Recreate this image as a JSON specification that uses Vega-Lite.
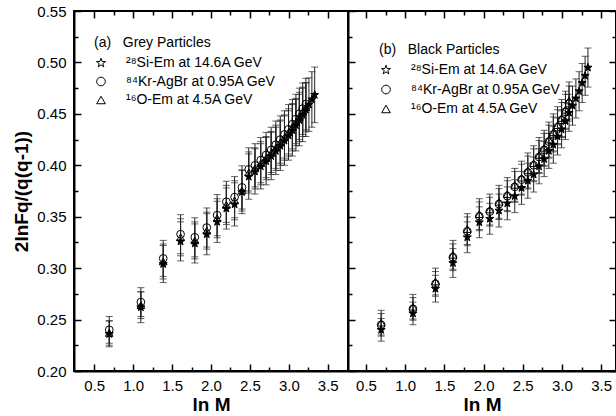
{
"$schema": "https://vega.github.io/schema/vega-lite/v6.json",
"autosize": {"type": "pad"},
"padding": {"left": 11, "top": 3, "right": 0, "bottom": 0},
"background": "white",
"config": {
  "font": "Liberation Sans",
  "view": {"stroke": "black", "strokeWidth": 2},
  "axis": {"domainColor": "black", "domainWidth": 2, "tickColor": "black", "tickWidth": 1.5, "labelColor": "black", "labelFontSize": 15, "titleColor": "black", "grid": false, "labelOverlap": false, "labelFlush": false, "labelBound": false},
  "legend": {"orient": "none", "padding": 0, "titleFontWeight": "normal", "titleFontSize": 14, "titleColor": "black", "labelFontSize": 14, "labelColor": "black", "symbolSize": 75, "symbolStrokeWidth": 1, "rowPadding": 4.5, "titlePadding": 6, "labelOffset": 18}
},
"datasets": {
  "a": [
    {"x":0.693,"y":0.236,"e":0.0125,"s":"Si"},{"x":1.099,"y":0.262,"e":0.015,"s":"Si"},{"x":1.386,"y":0.304,"e":0.018,"s":"Si"},{"x":1.609,"y":0.326,"e":0.019,"s":"Si"},{"x":1.792,"y":0.324,"e":0.019,"s":"Si"},{"x":1.946,"y":0.333,"e":0.020,"s":"Si"},{"x":2.079,"y":0.345,"e":0.020,"s":"Si"},{"x":2.197,"y":0.358,"e":0.020,"s":"Si"},{"x":2.303,"y":0.362,"e":0.021,"s":"Si"},{"x":2.398,"y":0.374,"e":0.021,"s":"Si"},{"x":2.485,"y":0.389,"e":0.022,"s":"Si"},{"x":2.565,"y":0.394,"e":0.022,"s":"Si"},{"x":2.639,"y":0.399,"e":0.022,"s":"Si"},{"x":2.708,"y":0.404,"e":0.023,"s":"Si"},{"x":2.773,"y":0.409,"e":0.023,"s":"Si"},{"x":2.833,"y":0.414,"e":0.023,"s":"Si"},{"x":2.890,"y":0.419,"e":0.024,"s":"Si"},{"x":2.944,"y":0.424,"e":0.024,"s":"Si"},{"x":2.996,"y":0.429,"e":0.024,"s":"Si"},{"x":3.045,"y":0.434,"e":0.025,"s":"Si"},{"x":3.091,"y":0.439,"e":0.025,"s":"Si"},{"x":3.135,"y":0.444,"e":0.025,"s":"Si"},{"x":3.178,"y":0.449,"e":0.026,"s":"Si"},{"x":3.219,"y":0.454,"e":0.026,"s":"Si"},{"x":3.258,"y":0.459,"e":0.026,"s":"Si"},{"x":3.296,"y":0.464,"e":0.027,"s":"Si"},{"x":3.332,"y":0.4685,"e":0.027,"s":"Si"},
    {"x":0.693,"y":0.240,"e":0.013,"s":"Kr"},{"x":1.099,"y":0.267,"e":0.014,"s":"Kr"},{"x":1.386,"y":0.3095,"e":0.0175,"s":"Kr"},{"x":1.609,"y":0.333,"e":0.019,"s":"Kr"},{"x":1.792,"y":0.330,"e":0.019,"s":"Kr"},{"x":1.946,"y":0.3395,"e":0.019,"s":"Kr"},{"x":2.079,"y":0.3515,"e":0.020,"s":"Kr"},{"x":2.197,"y":0.3645,"e":0.020,"s":"Kr"},{"x":2.303,"y":0.369,"e":0.020,"s":"Kr"},{"x":2.398,"y":0.3785,"e":0.021,"s":"Kr"},{"x":2.485,"y":0.396,"e":0.021,"s":"Kr"},{"x":2.565,"y":0.400,"e":0.021,"s":"Kr"},{"x":2.639,"y":0.405,"e":0.022,"s":"Kr"},{"x":2.708,"y":0.410,"e":0.022,"s":"Kr"},{"x":2.773,"y":0.415,"e":0.022,"s":"Kr"},{"x":2.833,"y":0.420,"e":0.023,"s":"Kr"},{"x":2.890,"y":0.425,"e":0.023,"s":"Kr"},{"x":2.944,"y":0.430,"e":0.023,"s":"Kr"},{"x":2.996,"y":0.435,"e":0.024,"s":"Kr"},{"x":3.045,"y":0.440,"e":0.024,"s":"Kr"},{"x":3.091,"y":0.445,"e":0.024,"s":"Kr"},{"x":3.135,"y":0.450,"e":0.025,"s":"Kr"},{"x":3.178,"y":0.455,"e":0.025,"s":"Kr"},{"x":3.219,"y":0.4595,"e":0.025,"s":"Kr"},
    {"x":0.693,"y":0.237,"e":0.012,"s":"O"},{"x":1.099,"y":0.264,"e":0.013,"s":"O"},{"x":1.386,"y":0.3065,"e":0.017,"s":"O"},{"x":1.609,"y":0.330,"e":0.018,"s":"O"},{"x":1.792,"y":0.327,"e":0.018,"s":"O"},{"x":1.946,"y":0.3365,"e":0.018,"s":"O"},{"x":2.079,"y":0.3485,"e":0.019,"s":"O"},{"x":2.197,"y":0.3615,"e":0.019,"s":"O"},{"x":2.303,"y":0.366,"e":0.019,"s":"O"},{"x":2.398,"y":0.3755,"e":0.020,"s":"O"},{"x":2.485,"y":0.393,"e":0.020,"s":"O"},{"x":2.565,"y":0.397,"e":0.020,"s":"O"},{"x":2.639,"y":0.402,"e":0.021,"s":"O"},{"x":2.708,"y":0.407,"e":0.021,"s":"O"},{"x":2.773,"y":0.412,"e":0.021,"s":"O"},{"x":2.833,"y":0.417,"e":0.022,"s":"O"},{"x":2.890,"y":0.422,"e":0.022,"s":"O"},{"x":2.944,"y":0.427,"e":0.022,"s":"O"},{"x":2.996,"y":0.432,"e":0.023,"s":"O"},{"x":3.045,"y":0.437,"e":0.023,"s":"O"},{"x":3.091,"y":0.442,"e":0.023,"s":"O"},{"x":3.135,"y":0.447,"e":0.024,"s":"O"},{"x":3.178,"y":0.452,"e":0.024,"s":"O"},{"x":3.219,"y":0.4565,"e":0.024,"s":"O"}
  ],
  "b": [
    {"x":0.693,"y":0.240,"e":0.011,"s":"Si"},{"x":1.099,"y":0.256,"e":0.011,"s":"Si"},{"x":1.386,"y":0.280,"e":0.013,"s":"Si"},{"x":1.609,"y":0.305,"e":0.014,"s":"Si"},{"x":1.792,"y":0.330,"e":0.015,"s":"Si"},{"x":1.946,"y":0.3446,"e":0.015,"s":"Si"},{"x":2.079,"y":0.348,"e":0.015,"s":"Si"},{"x":2.197,"y":0.356,"e":0.016,"s":"Si"},{"x":2.303,"y":0.363,"e":0.016,"s":"Si"},{"x":2.398,"y":0.370,"e":0.016,"s":"Si"},{"x":2.485,"y":0.378,"e":0.016,"s":"Si"},{"x":2.565,"y":0.385,"e":0.017,"s":"Si"},{"x":2.639,"y":0.391,"e":0.017,"s":"Si"},{"x":2.708,"y":0.399,"e":0.017,"s":"Si"},{"x":2.773,"y":0.406,"e":0.017,"s":"Si"},{"x":2.833,"y":0.414,"e":0.017,"s":"Si"},{"x":2.890,"y":0.420,"e":0.018,"s":"Si"},{"x":2.944,"y":0.428,"e":0.018,"s":"Si"},{"x":2.996,"y":0.435,"e":0.018,"s":"Si"},{"x":3.045,"y":0.443,"e":0.018,"s":"Si"},{"x":3.091,"y":0.451,"e":0.018,"s":"Si"},{"x":3.135,"y":0.458,"e":0.019,"s":"Si"},{"x":3.178,"y":0.465,"e":0.019,"s":"Si"},{"x":3.219,"y":0.472,"e":0.019,"s":"Si"},{"x":3.258,"y":0.480,"e":0.019,"s":"Si"},{"x":3.296,"y":0.487,"e":0.019,"s":"Si"},{"x":3.332,"y":0.495,"e":0.019,"s":"Si"},
    {"x":0.693,"y":0.2449,"e":0.011,"s":"Kr"},{"x":1.099,"y":0.2604,"e":0.011,"s":"Kr"},{"x":1.386,"y":0.2847,"e":0.012,"s":"Kr"},{"x":1.609,"y":0.3106,"e":0.013,"s":"Kr"},{"x":1.792,"y":0.3358,"e":0.014,"s":"Kr"},{"x":1.946,"y":0.3504,"e":0.014,"s":"Kr"},{"x":2.079,"y":0.3549,"e":0.014,"s":"Kr"},{"x":2.197,"y":0.3623,"e":0.015,"s":"Kr"},{"x":2.303,"y":0.370,"e":0.015,"s":"Kr"},{"x":2.398,"y":0.379,"e":0.015,"s":"Kr"},{"x":2.485,"y":0.386,"e":0.015,"s":"Kr"},{"x":2.565,"y":0.393,"e":0.016,"s":"Kr"},{"x":2.639,"y":0.400,"e":0.016,"s":"Kr"},{"x":2.708,"y":0.408,"e":0.016,"s":"Kr"},{"x":2.773,"y":0.415,"e":0.016,"s":"Kr"},{"x":2.833,"y":0.423,"e":0.016,"s":"Kr"},{"x":2.890,"y":0.430,"e":0.017,"s":"Kr"},{"x":2.944,"y":0.437,"e":0.017,"s":"Kr"},{"x":2.996,"y":0.444,"e":0.017,"s":"Kr"},{"x":3.045,"y":0.452,"e":0.017,"s":"Kr"},{"x":3.091,"y":0.460,"e":0.017,"s":"Kr"},
    {"x":0.693,"y":0.247,"e":0.012,"s":"O"},{"x":1.099,"y":0.2625,"e":0.012,"s":"O"},{"x":1.386,"y":0.287,"e":0.013,"s":"O"},{"x":1.609,"y":0.313,"e":0.014,"s":"O"},{"x":1.792,"y":0.338,"e":0.015,"s":"O"},{"x":1.946,"y":0.3525,"e":0.015,"s":"O"},{"x":2.079,"y":0.357,"e":0.015,"s":"O"},{"x":2.197,"y":0.3645,"e":0.016,"s":"O"},{"x":2.303,"y":0.372,"e":0.016,"s":"O"},{"x":2.398,"y":0.381,"e":0.016,"s":"O"},{"x":2.485,"y":0.388,"e":0.016,"s":"O"},{"x":2.565,"y":0.395,"e":0.017,"s":"O"},{"x":2.639,"y":0.402,"e":0.017,"s":"O"},{"x":2.708,"y":0.410,"e":0.017,"s":"O"},{"x":2.773,"y":0.417,"e":0.017,"s":"O"},{"x":2.833,"y":0.425,"e":0.017,"s":"O"},{"x":2.890,"y":0.432,"e":0.018,"s":"O"},{"x":2.944,"y":0.439,"e":0.018,"s":"O"},{"x":2.996,"y":0.446,"e":0.018,"s":"O"},{"x":3.045,"y":0.454,"e":0.018,"s":"O"},{"x":3.091,"y":0.463,"e":0.018,"s":"O"}
  ]
},
"spacing": 0,
"bounds": "flush",
"hconcat": [
  {
    "width": 274, "height": 360,
    "data": {"name": "a"},
    "layer": [
      {
        "mark": {"type": "errorbar", "ticks": {"size": 7, "color": "#222", "strokeWidth": 1}, "rule": {"color": "#222", "strokeWidth": 1}},
        "encoding": {
          "x": {"field": "x", "type": "quantitative", "scale": {"domain": [0.24, 3.76], "nice": false, "zero": false},
                "axis": {"orient": "bottom", "title": "ln M", "titleFontSize": 19, "titleFontWeight": "bold", "titlePadding": -1, "labelPadding": 14,
                         "values": [0.5,0.75,1,1.25,1.5,1.75,2,2.25,2.5,2.75,3,3.25,3.5],
                         "labelExpr": "abs(datum.value*2 - round(datum.value*2)) < 0.001 ? format(datum.value, '.1f') : ''",
                         "tickSize": {"condition": {"test": "abs(datum.value*2 - round(datum.value*2)) < 0.001", "value": -7}, "value": -4}}},
          "y": {"field": "y", "type": "quantitative", "scale": {"domain": [0.2, 0.55], "nice": false, "zero": false},
                "axis": {"orient": "left", "title": "2lnFq/(q(q-1))", "titleFontSize": 19, "titleFontWeight": "bold", "titlePadding": 5, "labelPadding": 15, "format": ".2f",
                         "values": [0.2,0.225,0.25,0.275,0.3,0.325,0.35,0.375,0.4,0.425,0.45,0.475,0.5,0.525,0.55],
                         "labelExpr": "abs(datum.value*20 - round(datum.value*20)) < 0.001 ? format(datum.value, '.2f') : ''",
                         "tickSize": {"condition": {"test": "abs(datum.value*20 - round(datum.value*20)) < 0.001", "value": -7}, "value": -4}}},
          "yError": {"field": "e"}
        }
      },
      {
        "mark": {"type": "point", "size": 60, "stroke": "black", "strokeWidth": 1, "opacity": 1},
        "encoding": {
          "x": {"field": "x", "type": "quantitative",
                "axis": {"orient": "top", "title": null, "labels": false, "domain": false,
                         "values": [0.5,0.75,1,1.25,1.5,1.75,2,2.25,2.5,2.75,3,3.25,3.5],
                         "tickSize": {"condition": {"test": "abs(datum.value*2 - round(datum.value*2)) < 0.001", "value": -7}, "value": -4}}},
          "y": {"field": "y", "type": "quantitative", "axis": null},
          "shape": {"field": "s", "type": "nominal", "scale": {"domain": ["Si","Kr","O"], "range": ["M0,-1.1L0.259,-0.356L1.046,-0.34L0.418,0.136L0.647,0.89L0,0.44L-0.647,0.89L-0.418,0.136L-1.046,-0.34L-0.259,-0.356Z", "circle", "triangle-up"]},
                    "legend": {"legendX": 20, "legendY": 25, "title": "(a)\u00a0\u00a0\u00a0Grey Particles",
                               "encode": {"symbols": {"update": {"stroke": {"value": "black"}, "strokeWidth": {"value": 1}, "opacity": {"value": 1}}}},
                               "labelExpr": "datum.label == 'Si' ? '²⁸Si-Em at 14.6A GeV' : datum.label == 'Kr' ? '⁸⁴Kr-AgBr at 0.95A GeV' : '¹⁶O-Em at 4.5A GeV'"}},
          "fill": {"condition": {"test": "datum.s === 'Si' || datum.value === 'Si' || datum.label === 'Si'", "value": "black"}, "value": "transparent"}
        }
      }
    ],
    "resolve": {"axis": {"x": "independent", "y": "independent"}}
  },
  {
    "width": 268, "height": 360,
    "data": {"name": "b"},
    "layer": [
      {
        "mark": {"type": "errorbar", "ticks": {"size": 7, "color": "#222", "strokeWidth": 1}, "rule": {"color": "#222", "strokeWidth": 1}},
        "encoding": {
          "x": {"field": "x", "type": "quantitative", "scale": {"domain": [0.27, 3.69], "nice": false, "zero": false},
                "axis": {"orient": "bottom", "title": "ln M", "titleFontSize": 19, "titleFontWeight": "bold", "titlePadding": -1, "labelPadding": 14,
                         "values": [0.5,0.75,1,1.25,1.5,1.75,2,2.25,2.5,2.75,3,3.25,3.5],
                         "labelExpr": "abs(datum.value*2 - round(datum.value*2)) < 0.001 ? format(datum.value, '.1f') : ''",
                         "tickSize": {"condition": {"test": "abs(datum.value*2 - round(datum.value*2)) < 0.001", "value": -7}, "value": -4}}},
          "y": {"field": "y", "type": "quantitative", "scale": {"domain": [0.2, 0.55], "nice": false, "zero": false},
                "axis": {"orient": "left", "title": null, "labels": false,
                         "values": [0.2,0.225,0.25,0.275,0.3,0.325,0.35,0.375,0.4,0.425,0.45,0.475,0.5,0.525,0.55],
                         "tickSize": {"condition": {"test": "abs(datum.value*20 - round(datum.value*20)) < 0.001", "value": -7}, "value": -4}}},
          "yError": {"field": "e"}
        }
      },
      {
        "mark": {"type": "point", "size": 60, "stroke": "black", "strokeWidth": 1, "opacity": 1},
        "encoding": {
          "x": {"field": "x", "type": "quantitative",
                "axis": {"orient": "top", "title": null, "labels": false, "domain": false,
                         "values": [0.5,0.75,1,1.25,1.5,1.75,2,2.25,2.5,2.75,3,3.25,3.5],
                         "tickSize": {"condition": {"test": "abs(datum.value*2 - round(datum.value*2)) < 0.001", "value": -7}, "value": -4}}},
          "y": {"field": "y", "type": "quantitative",
                "axis": {"orient": "right", "title": null, "labels": false,
                         "values": [0.2,0.225,0.25,0.275,0.3,0.325,0.35,0.375,0.4,0.425,0.45,0.475,0.5,0.525,0.55],
                         "tickSize": {"condition": {"test": "abs(datum.value*20 - round(datum.value*20)) < 0.001", "value": -7}, "value": -4}}},
          "shape": {"field": "s", "type": "nominal", "scale": {"domain": ["Si","Kr","O"], "range": ["M0,-1.1L0.259,-0.356L1.046,-0.34L0.418,0.136L0.647,0.89L0,0.44L-0.647,0.89L-0.418,0.136L-1.046,-0.34L-0.259,-0.356Z", "circle", "triangle-up"]},
                    "legend": {"legendX": 31, "legendY": 32, "title": "(b)\u00a0\u00a0\u00a0Black Particles", "rowPadding": 5.5,
                               "encode": {"symbols": {"update": {"stroke": {"value": "black"}, "strokeWidth": {"value": 1}, "opacity": {"value": 1}}}},
                               "labelExpr": "datum.label == 'Si' ? '²⁸Si-Em at 14.6A GeV' : datum.label == 'Kr' ? '⁸⁴Kr-AgBr at 0.95A GeV' : '¹⁶O-Em at 4.5A GeV'"}},
          "fill": {"condition": {"test": "datum.s === 'Si' || datum.value === 'Si' || datum.label === 'Si'", "value": "black"}, "value": "transparent"}
        }
      }
    ],
    "resolve": {"axis": {"x": "independent", "y": "independent"}}
  }
],
"resolve": {"scale": {"x": "independent", "y": "independent", "shape": "independent"}, "legend": {"shape": "independent"}}
}
